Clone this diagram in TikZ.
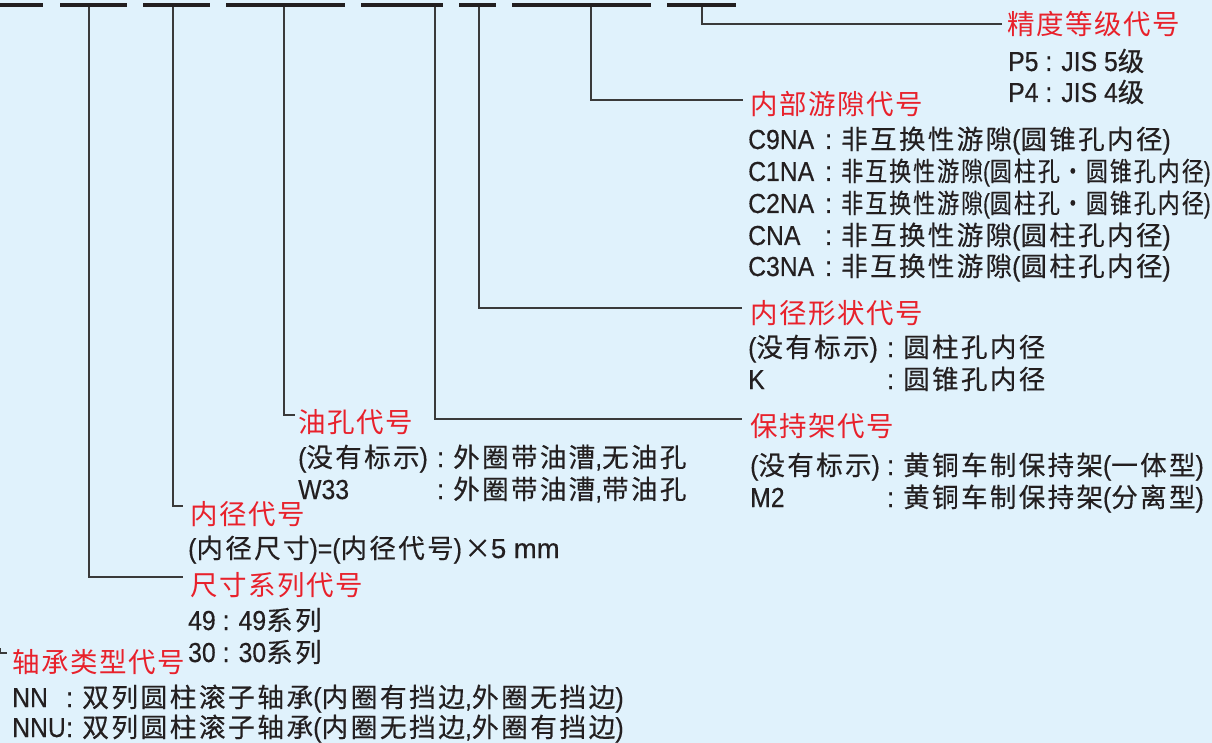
\documentclass[tikz,border=0pt]{standalone}
\usepackage{fontspec}
\setmainfont[FakeStretch=0.9,FakeBold=0.4]{Liberation Sans}
\newfontfamily\latwide[FakeBold=0.4]{Liberation Sans}
\newfontfamily\zhfont[LetterSpace=9,FakeBold=0.4]{Noto Sans CJK SC}
\newfontfamily\zhred[LetterSpace=6]{Noto Sans CJK SC}
\newcommand\Z[1]{{\fontsize{26.5}{30}\zhfont #1}}
\newcommand\cb[2]{\makebox[#1pt][l]{#2}}
\definecolor{bg}{HTML}{E0F2FC}
\definecolor{ink}{HTML}{231F20}
\definecolor{hred}{HTML}{E8212B}
\definecolor{leadc}{HTML}{3A3A3A}
\tikzset{
  txt/.style={anchor=base west, inner sep=0pt, text=ink, font=\fontsize{27.5}{30}\selectfont},
  head/.style={anchor=base west, inner sep=0pt, text=hred, font=\fontsize{27.5}{30}\zhred},
  bar/.style={line width=4pt, draw=ink},
  lead/.style={line width=1.3pt, draw=leadc},
}
\begin{document}
\begin{tikzpicture}[x=1pt,y=-1pt]
\path[fill=bg,use as bounding box] (0,0) rectangle (1212,743);
% code bars
\draw[bar] (0,5) -- (43,5);
\draw[bar] (60,5) -- (127,5);
\draw[bar] (143,5) -- (210,5);
\draw[bar] (226,5) -- (345,5);
\draw[bar] (361,5) -- (443,5);
\draw[bar] (459,5) -- (496,5);
\draw[bar] (512,5) -- (651,5);
\draw[bar] (667,5) -- (736,5);
% bar points and ends
\coordinate (b1) at (0.6,648);  \coordinate (e1) at (7,653);
\coordinate (b2) at (89,7);   \coordinate (e2) at (183,577);
\coordinate (b3) at (173,7);  \coordinate (e3) at (183,506);
\coordinate (b4) at (284,7);  \coordinate (e4) at (295,415);
\coordinate (b5) at (435,7);  \coordinate (e5) at (742,419);
\coordinate (b6) at (479,7);  \coordinate (e6) at (742,308);
\coordinate (b7) at (591,7);  \coordinate (e7) at (743,100);
\coordinate (b8) at (702,7);  \coordinate (e8) at (1002,24);
\foreach \i in {1,...,8} {\draw[lead] (b\i) |- (e\i);}
% headings
\node[head] (h8) at (1007,35) {精度等级代号};
\node[head] (h7) at (750,115) {内部游隙代号};
\node[head] (h6) at (750,323) {内径形状代号};
\node[head] (h5) at (750,436) {保持架代号};
\node[head] (h4) at (298,432) {油孔代号};
\node[head] (h3) at (190,524) {内径代号};
\node[head] (h2) at (190,595) {尺寸系列代号};
\node[head] (h1) at (12,672) {轴承类型代号};
% precision
\node[txt] (p5) at (1008,71) {P5 : JIS 5\Z{级}};
\node[txt] (p4) at (1008,102) {P4 : JIS 4\Z{级}};
% clearance
\node[txt] (c9) at (748,149) {\cb{77}{C9NA}: \Z{非互换性游隙}(\Z{圆锥孔内径})};
\node[txt] (c1) at (748,181) {\cb{77}{C1NA}: \scalebox{0.83}[1]{\Z{非互换性游隙}(\Z{圆柱孔・圆锥孔内径})}};
\node[txt] (c2) at (748,213) {\cb{77}{C2NA}: \scalebox{0.83}[1]{\Z{非互换性游隙}(\Z{圆柱孔・圆锥孔内径})}};
\node[txt] (cn) at (748,245) {\cb{77}{CNA}: \Z{非互换性游隙}(\Z{圆柱孔内径})};
\node[txt] (c3) at (748,276) {\cb{77}{C3NA}: \Z{非互换性游隙}(\Z{圆柱孔内径})};
% bore shape
\node[txt] (s1) at (748,357) {\cb{139}{(\Z{没有标示})}: \Z{圆柱孔内径}};
\node[txt] (s2) at (748,389) {\cb{139}{K}: \Z{圆锥孔内径}};
% cage
\node[txt] (k1) at (750,475) {\cb{137}{(\Z{没有标示})}: \Z{黄铜车制保持架}(\Z{一体型})};
\node[txt] (k2) at (750,507) {\cb{137}{M2}: \Z{黄铜车制保持架}(\Z{分离型})};
% oil hole
\node[txt] (o1) at (298,467) {\cb{139}{(\Z{没有标示})}: \Z{外圈带油漕},\Z{无油孔}};
\node[txt] (o2) at (298,499) {\cb{139}{W33}: \Z{外圈带油漕},\Z{带油孔}};
% bore
\node[txt] (d1) at (188,558) {(\Z{内径尺寸})=(\Z{内径代号})\hspace{2.5pt}\Z{×}{\latwide 5 mm}};
% dimension series
\node[txt] (r1) at (188,630) {49 : 49\Z{系列}};
\node[txt] (r2) at (188,662) {30 : 30\Z{系列}};
% bearing type
\node[txt] (t1) at (12,707) {\cb{54}{NN}: \scalebox{1.01}[1]{\Z{双列圆柱滚子轴承}(\Z{内圈有挡边},\Z{外圈无挡边})}};
\node[txt] (t2) at (12,737) {\cb{54}{NNU}: \scalebox{1.01}[1]{\Z{双列圆柱滚子轴承}(\Z{内圈无挡边},\Z{外圈有挡边})}};
\end{tikzpicture}
\end{document}
